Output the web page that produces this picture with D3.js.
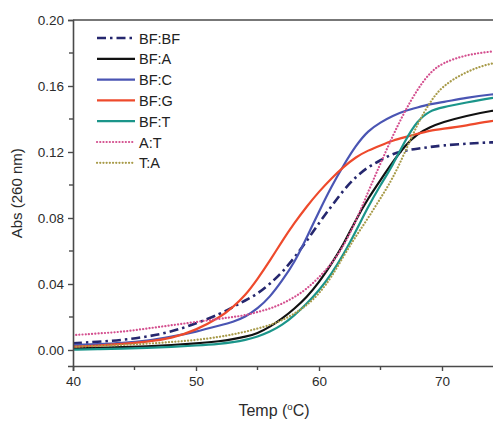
<!DOCTYPE html>
<html>
<head>
<meta charset="utf-8">
<script src="https://cdn.jsdelivr.net/npm/d3@7"></script>
<style>
  body { margin: 0; background: #fff; }
  svg { display: block; font-family: Arial, "Liberation Sans", sans-serif; }
</style>
</head>
<body>
<svg id="chart" width="493" height="423"></svg>
<script>
// temperatures (°C) sampled along the melting curves
const temps = [40, 42, 44, 46, 48, 50, 52, 53, 54, 55, 56, 57, 58, 59, 60, 61, 62, 63, 64, 65, 66, 67, 68, 69, 70, 72, 74, 76]

const bfbf = [0.004, 0.005, 0.006, 0.008, 0.011, 0.016, 0.022, 0.026, 0.030, 0.034, 0.040, 0.047, 0.056, 0.066, 0.077, 0.087, 0.097, 0.105, 0.111, 0.115, 0.119, 0.121, 0.122, 0.123, 0.124, 0.125, 0.126, 0.126]
const bfa = [0.001, 0.0013, 0.0017, 0.0022, 0.003, 0.004, 0.0053, 0.0065, 0.008, 0.010, 0.014, 0.019, 0.025, 0.032, 0.041, 0.052, 0.064, 0.079, 0.092, 0.103, 0.114, 0.124, 0.131, 0.135, 0.138, 0.142, 0.145, 0.147]
const bfc = [0.003, 0.0035, 0.0042, 0.0055, 0.008, 0.011, 0.015, 0.017, 0.020, 0.025, 0.032, 0.042, 0.053, 0.068, 0.084, 0.099, 0.112, 0.124, 0.133, 0.138, 0.142, 0.145, 0.147, 0.149, 0.150, 0.153, 0.155, 0.156]
const bfg = [0.002, 0.0027, 0.0036, 0.005, 0.007, 0.012, 0.020, 0.026, 0.033, 0.043, 0.054, 0.066, 0.077, 0.087, 0.096, 0.104, 0.111, 0.117, 0.121, 0.124, 0.127, 0.129, 0.131, 0.133, 0.134, 0.136, 0.139, 0.140]
const bft = [0.0002, 0.0005, 0.0008, 0.0012, 0.0018, 0.0027, 0.0038, 0.0047, 0.006, 0.008, 0.011, 0.015, 0.021, 0.028, 0.036, 0.046, 0.058, 0.072, 0.087, 0.100, 0.112, 0.127, 0.139, 0.145, 0.147, 0.150, 0.153, 0.154]
const at = [0.009, 0.010, 0.011, 0.013, 0.015, 0.017, 0.019, 0.020, 0.021, 0.023, 0.025, 0.028, 0.032, 0.037, 0.044, 0.052, 0.063, 0.078, 0.096, 0.113, 0.130, 0.145, 0.158, 0.168, 0.174, 0.179, 0.181, 0.182]
const ta = [0.002, 0.0024, 0.003, 0.0038, 0.0048, 0.006, 0.008, 0.0095, 0.011, 0.013, 0.015, 0.018, 0.022, 0.027, 0.034, 0.044, 0.057, 0.069, 0.080, 0.092, 0.104, 0.120, 0.137, 0.150, 0.160, 0.169, 0.174, 0.176]

const seriesNames = ['BF:BF', 'BF:A', 'BF:C', 'BF:G', 'BF:T', 'A:T', 'T:A']
const seriesValues = [bfbf, bfa, bfc, bfg, bft, at, ta]

const xTicks = [40, 50, 60, 70]
const yTicks = [0.00, 0.04, 0.08, 0.12, 0.16, 0.20]

// look of each series, same order as seriesNames
const styles = [
  { color: '#25276e', dash: '9,4,2.5,4', width: 2.6, cap: 'butt' },
  { color: '#111111', dash: null, width: 2.2, cap: 'butt' },
  { color: '#4a55b3', dash: null, width: 2.2, cap: 'butt' },
  { color: '#ee4a2c', dash: null, width: 2.2, cap: 'butt' },
  { color: '#1b958a', dash: null, width: 2.2, cap: 'butt' },
  { color: '#d4508f', dash: '0.1,3.1', width: 2.2, cap: 'round' },
  { color: '#a89b4a', dash: '0.1,3.1', width: 2.2, cap: 'round' }
]

const svg = d3.select('#chart')
const margin = { top: 20, left: 73, bottom: 57 }
const plotBottom = 423 - margin.bottom

// 10 °C spans ~123 px, plot runs past the right edge of the picture
const x = d3.scaleLinear().domain([40, 80]).range([margin.left, margin.left + 40 * 12.3])
const y = d3.scaleLinear().domain([-0.0097, 0.20]).range([plotBottom, margin.top])

const axisColor = '#4a4a4a'
const textColor = '#2b2b2b'

// top frame line
svg.append('line')
  .attr('x1', margin.left).attr('x2', 493)
  .attr('y1', y(0.20)).attr('y2', y(0.20))
  .attr('stroke', axisColor).attr('stroke-width', 1.6)

// curves
svg.append('clipPath').attr('id', 'plotClip')
  .append('rect')
  .attr('x', margin.left).attr('y', margin.top)
  .attr('width', 493 - margin.left).attr('height', plotBottom - margin.top)

const line = d3.line()
  .x(function (d) { return x(d[0]) })
  .y(function (d) { return y(d[1]) })
  .curve(d3.curveBasis)

const lines = svg.append('g').attr('clip-path', 'url(#plotClip)')
seriesValues.forEach(function (vals, i) {
  const st = styles[i]
  lines.append('path')
    .datum(temps.map(function (t, j) { return [t, vals[j]] }))
    .attr('fill', 'none')
    .attr('stroke', st.color)
    .attr('stroke-width', st.width)
    .attr('stroke-dasharray', st.dash)
    .attr('stroke-linecap', st.cap)
    .attr('d', line)
})

// x axis
const xAxis = svg.append('g')
  .attr('transform', `translate(0, ${plotBottom})`)
  .call(d3.axisBottom(x).tickValues(xTicks).tickSize(5).tickPadding(5).tickFormat(d3.format('d')))
xAxis.append('g').selectAll('line')
  .data([45, 55, 65, 75])
  .enter().append('line')
  .attr('x1', function (d) { return x(d) }).attr('x2', function (d) { return x(d) })
  .attr('y1', 0).attr('y2', 4)

// y axis
const yAxis = svg.append('g')
  .attr('transform', `translate(${margin.left}, 0)`)
  .call(d3.axisLeft(y).tickValues(yTicks).tickSize(5).tickPadding(4).tickFormat(d3.format('.2f')))
yAxis.append('g').selectAll('line')
  .data([0.02, 0.06, 0.10, 0.14, 0.18])
  .enter().append('line')
  .attr('x1', 0).attr('x2', -4)
  .attr('y1', function (d) { return y(d) }).attr('y2', function (d) { return y(d) })

svg.selectAll('.domain').attr('stroke', axisColor).attr('stroke-width', 1.6)
svg.selectAll('.tick line').attr('stroke', axisColor).attr('stroke-width', 1.4)
xAxis.selectAll('g > line').attr('stroke', axisColor).attr('stroke-width', 1.4)
yAxis.selectAll('g > line').attr('stroke', axisColor).attr('stroke-width', 1.4)
svg.selectAll('.tick text')
  .attr('fill', textColor)
  .style('font-size', '13.5px')
  .style('font-family', 'Arial, "Liberation Sans", sans-serif')

// axis titles
svg.append('text')
  .attr('transform', `translate(22, ${y(0.095)}) rotate(-90)`)
  .attr('text-anchor', 'middle')
  .attr('fill', textColor)
  .style('font-size', '15px')
  .text('Abs (260 nm)')

const xTitle = svg.append('text')
  .attr('x', 274).attr('y', 416)
  .attr('text-anchor', 'middle')
  .attr('fill', textColor)
  .style('font-size', '16px')
xTitle.append('tspan').text('Temp (')
xTitle.append('tspan').attr('dy', -6).style('font-size', '9.5px').text('o')
xTitle.append('tspan').attr('dy', 6).text('C)')

// legend
const legend = svg.append('g').attr('transform', 'translate(97, 38)')
seriesNames.forEach(function (name, i) {
  const st = styles[i]
  const row = legend.append('g').attr('transform', `translate(0, ${i * 20.8})`)
  row.append('line')
    .attr('x1', 0).attr('x2', 38)
    .attr('y1', 0).attr('y2', 0)
    .attr('stroke', st.color)
    .attr('stroke-width', st.width)
    .attr('stroke-dasharray', st.dash)
    .attr('stroke-linecap', st.cap)
  row.append('text')
    .attr('x', 42).attr('y', 5.5)
    .attr('fill', '#222')
    .style('font-size', '14.5px')
    .text(name)
})
</script>
</body>
</html>
